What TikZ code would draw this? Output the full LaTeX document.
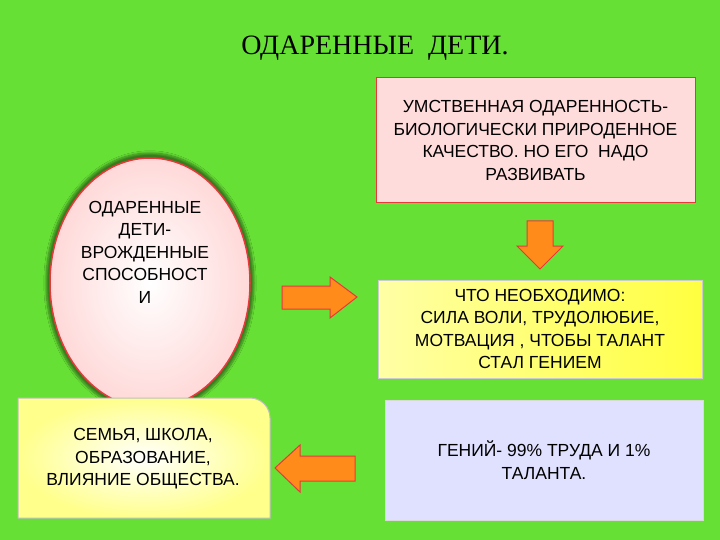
\documentclass[tikz,border=0pt]{standalone}
\usepackage{fontspec}
\setmainfont{Liberation Sans}
\newfontfamily\serifru{Liberation Serif}
\usetikzlibrary{shapes.geometric,shadows.blur}
\definecolor{bg}{HTML}{66E035}
\definecolor{redb}{HTML}{E8383C}
\definecolor{arr}{HTML}{FF8C1A}
\tikzset{
 txt/.style={align=center,font=\fontsize{17.5}{22.5}\selectfont},
 arrowpath/.style={draw=redb,line width=1pt,fill=arr},
}
\begin{document}
\begin{tikzpicture}[x=1pt,y=-1pt]
\fill[bg] (0,0) rectangle (720,540);
\node[font=\serifru\fontsize{28}{30}\selectfont] (title) at (375,48) {ОДАРЕННЫЕ \ ДЕТИ.};
% top right box
\node[draw=redb,line width=1pt,fill=pink!55!white,minimum width=319,minimum height=125,inner sep=0] (b1) at (535.5,140.5) {};
\node[txt] at (b1) {УМСТВЕННАЯ ОДАРЕННОСТЬ-\\БИОЛОГИЧЕСКИ ПРИРОДЕННОЕ\\КАЧЕСТВО. НО ЕГО \ НАДО\\РАЗВИВАТЬ};
% ellipse
\node[ellipse,draw=redb,line width=1.5pt,inner color=white,outer color=pink!60!white,minimum width=200,minimum height=250,blur shadow={shadow blur steps=8,shadow xshift=0pt,shadow yshift=0pt,shadow scale=1.04,shadow opacity=45}] (e) at (150,283) {};
\node[txt] at (145,252) {ОДАРЕННЫЕ\\ДЕТИ-\\ВРОЖДЕННЫЕ\\СПОСОБНОСТ\\И};
% down arrow
\draw[arrowpath] (527,221) -- (553,221) -- (553,246) -- (563,246) -- (540,269) -- (517,246) -- (527,246) -- cycle;
% right arrow
\draw[arrowpath] (282,286) -- (330,286) -- (330,277) -- (357,297) -- (330,318) -- (330,309) -- (282,309) -- cycle;
% middle right box
\node[draw=gray!40,line width=1pt,left color=yellow!35!white,right color=yellow!75!white,minimum width=324,minimum height=98,inner sep=0] (b2) at (540,329) {};
\node[txt] at (b2) {ЧТО НЕОБХОДИМО:\\СИЛА ВОЛИ, ТРУДОЛЮБИЕ,\\МОТВАЦИЯ , ЧТОБЫ ТАЛАНТ\\СТАЛ ГЕНИЕМ};
% bottom left box
\path[draw=gray!50,line width=1pt,inner color=white,outer color=yellow!45!white,rounded corners=0pt] (18,518) -- (18,398) [rounded corners=20pt] -- (270,398) [rounded corners=0pt] -- (270,518) -- cycle;
\node[txt] (b3) at (143,459) {СЕМЬЯ, ШКОЛА,\\ОБРАЗОВАНИЕ,\\ВЛИЯНИЕ ОБЩЕСТВА.};
% left arrow
\draw[arrowpath] (355,456) -- (300,456) -- (300,445) -- (275,468) -- (300,492) -- (300,481) -- (355,481) -- cycle;
% bottom right box
\node[draw=gray!30,line width=1pt,fill=blue!12!white,minimum width=318,minimum height=120,inner sep=0] (b4) at (544,460) {};
\node[txt] at (b4) {ГЕНИЙ- 99\% ТРУДА И 1\%\\ТАЛАНТА.};
\end{tikzpicture}
\end{document}
